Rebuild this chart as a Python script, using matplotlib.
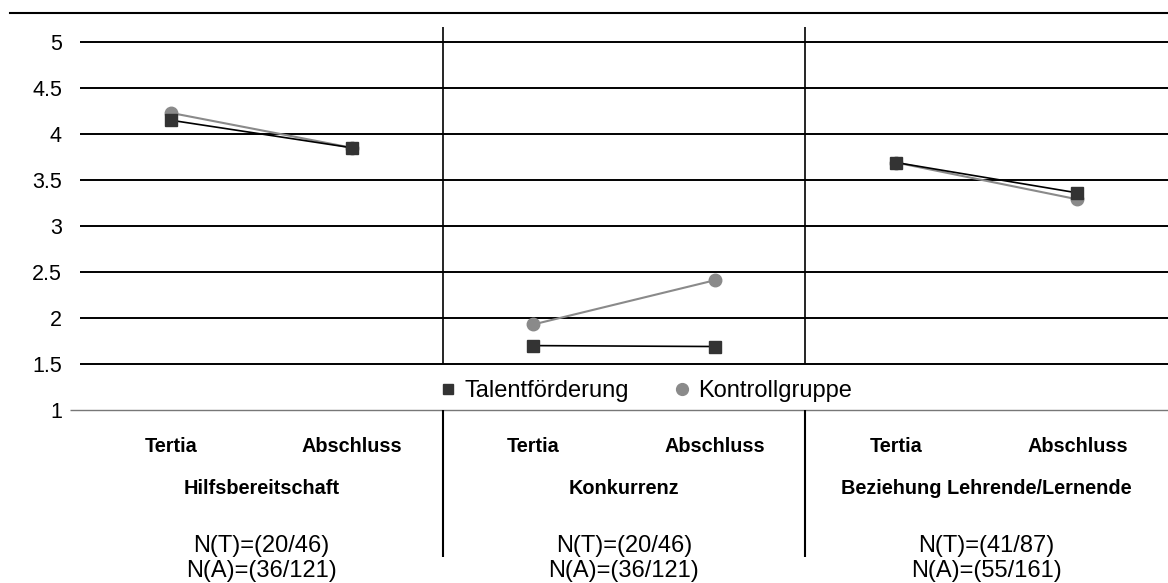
import matplotlib
matplotlib.use('Agg')
import numpy as np
from matplotlib import pyplot as plt
from matplotlib.lines import Line2D

plt.rcParams['font.family'] = ['Liberation Sans', 'DejaVu Sans']

# data
groups = ['Hilfsbereitschaft', 'Konkurrenz', 'Beziehung Lehrende/Lernende']
times = ['Tertia', 'Abschluss']
talent = [[4.15, 3.85], [1.70, 1.69], [3.69, 3.36]]
kontroll = [[4.23, 3.85], [1.93, 2.41], [3.69, 3.29]]
n_t = ['N(T)=(20/46)', 'N(T)=(20/46)', 'N(T)=(41/87)']
n_a = ['N(A)=(36/121)', 'N(A)=(36/121)', 'N(A)=(55/161)']
yticks = [1, 1.5, 2, 2.5, 3, 3.5, 4, 4.5, 5]

fig = plt.figure(figsize=(11.68, 5.83), dpi=100)
ax = fig.add_axes([80 / 1168, 1 - 410 / 583, 1 - 80 / 1168, (410 - 27) / 583])

ytop = 5 + 15 / 92
ax.set_xlim(-0.5, 5.5)
ax.set_ylim(1, ytop)
for s in ax.spines.values():
    s.set_visible(False)
ax.set_xticks([])
ax.set_yticks(yticks)
ax.set_yticklabels([('%g' % v) for v in yticks], fontsize=15.5)
ax.tick_params(axis='y', length=0, pad=13)

# gridlines
ax.hlines([v for v in yticks if v > 1], -0.5, 5.5, color='black', lw=1.4, zorder=1)
ax.hlines(1, -0.5 - 0.055, 5.5, color='#777777', lw=1.0, clip_on=False, zorder=1)

# panel dividers
for xd in [1.5, 3.5]:
    ax.vlines(xd, 1.5, ytop, color='black', lw=1.2, zorder=1)
    ax.vlines(xd, 1 - 147 / 92, 1, color='black', lw=1.5, clip_on=False, zorder=1)

# series
for i in range(3):
    xs = [2 * i, 2 * i + 1]
    ax.plot(xs, kontroll[i], color='#8a8a8a', lw=1.5, marker='o', ms=9,
            mfc='#8a8a8a', mec='#8a8a8a', zorder=3)
    ax.plot(xs, talent[i], color='black', lw=1.2, marker='s', ms=8.5,
            mfc='#333333', mec='#333333', zorder=4)

# category and group labels
for i in range(3):
    for j, t in enumerate(times):
        ax.text(2 * i + j, 1 - 37 / 92, t, ha='center', va='center',
                fontsize=14.3, fontweight='bold', clip_on=False)
    ax.text(2 * i + 0.5, 1 - 78 / 92, groups[i], ha='center', va='center',
            fontsize=14.3, fontweight='bold', clip_on=False)
    ax.text(2 * i + 0.5, 1 - 136 / 92, n_t[i], ha='center', va='center',
            fontsize=17, clip_on=False)
    ax.text(2 * i + 0.5, 1 - 161 / 92, n_a[i], ha='center', va='center',
            fontsize=17, clip_on=False)

# legend
h = [Line2D([], [], ls='none', marker='s', ms=7.5, mfc='#333333', mec='#333333'),
     Line2D([], [], ls='none', marker='o', ms=8.5, mfc='#8a8a8a', mec='#8a8a8a')]
fig.legend(h, ['Talentförderung', 'Kontrollgruppe'], loc='center',
           bbox_to_anchor=(647 / 1168, 1 - 391 / 583), ncol=2, frameon=False,
           fontsize=17, handlelength=0.5, handletextpad=0.45, columnspacing=2.0,
           borderpad=0)

# top rule
fig.add_artist(Line2D([10 / 1168, 1], [1 - 13 / 583, 1 - 13 / 583], color='black', lw=1.5))

fig.savefig('out.png', dpi=100)
